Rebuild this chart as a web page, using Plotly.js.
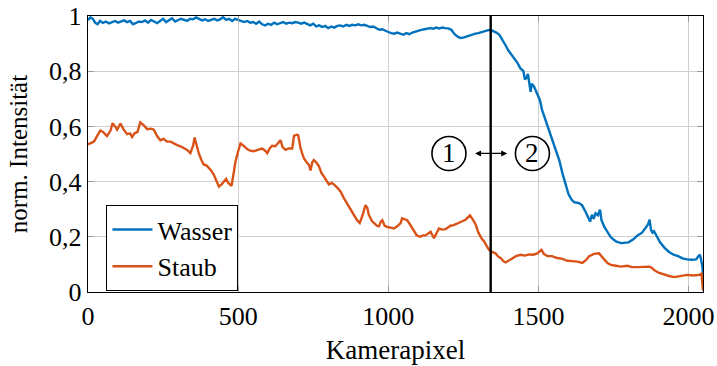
<!DOCTYPE html>
<html><head><meta charset="utf-8">
<script src="https://cdn.plot.ly/plotly-3.0.1.min.js"></script>
<style>html,body{margin:0;padding:0;background:#fff}#plot{width:717px;height:366px}</style>
</head><body><div id="plot"></div>
<script>
const wasserX = [0,8,16,24,32,40,50,60,70,80,90,100,110,120,130,140,150,160,170,180,190,200,210,220,230,240,250,260,270,280,290,300,310,320,330,340,350,360,370,380,390,400,410,420,430,440,450,460,470,480,490,500,510,520,530,540,550,560,570,580,590,600,610,620,630,640,650,660,670,680,690,700,710,720,730,740,750,760,770,780,790,800,810,820,830,840,850,860,870,880,890,900,910,920,930,940,950,960,970,980,990,1000,1010,1020,1030,1040,1050,1060,1070,1080,1090,1100,1110,1120,1130,1140,1150,1160,1170,1180,1190,1200,1210,1220,1230,1240,1250,1260,1270,1280,1290,1300,1310,1320,1330,1340,1350,1360,1370,1380,1390,1400,1410,1420,1430,1440,1450,1455,1460,1465,1470,1474,1478,1485,1495,1505,1512,1520,1530,1540,1550,1560,1570,1580,1590,1600,1610,1620,1635,1645,1655,1665,1672,1678,1684,1690,1698,1705,1710,1720,1730,1740,1750,1760,1775,1790,1800,1815,1830,1845,1855,1865,1870,1875,1880,1885,1895,1905,1920,1935,1950,1965,1980,1995,2010,2025,2033,2038,2042,2046,2048];
const wasserY = [0.985,0.995,0.99,0.975,0.97,0.982,0.975,0.98,0.973,0.978,0.982,0.976,0.98,0.984,0.978,0.982,0.97,0.975,0.98,0.978,0.984,0.976,0.986,0.98,0.974,0.982,0.99,0.978,0.986,0.992,0.98,0.984,0.99,0.986,0.982,0.99,0.988,0.995,0.99,0.984,0.988,0.982,0.986,0.99,0.984,0.988,0.996,0.986,0.99,0.982,0.99,0.986,0.984,0.978,0.982,0.976,0.978,0.972,0.98,0.97,0.966,0.972,0.968,0.976,0.97,0.974,0.978,0.972,0.976,0.974,0.978,0.976,0.972,0.976,0.97,0.966,0.972,0.962,0.966,0.96,0.964,0.956,0.962,0.958,0.964,0.966,0.962,0.968,0.964,0.968,0.966,0.97,0.966,0.968,0.964,0.96,0.962,0.956,0.95,0.952,0.946,0.942,0.938,0.936,0.94,0.935,0.932,0.938,0.934,0.94,0.944,0.946,0.95,0.952,0.954,0.956,0.954,0.958,0.955,0.958,0.956,0.955,0.95,0.935,0.926,0.92,0.922,0.926,0.93,0.932,0.936,0.938,0.942,0.946,0.948,0.95,0.946,0.94,0.932,0.915,0.895,0.875,0.86,0.845,0.83,0.81,0.8,0.77,0.775,0.79,0.76,0.725,0.755,0.745,0.72,0.695,0.66,0.635,0.6,0.575,0.54,0.51,0.475,0.43,0.39,0.355,0.335,0.325,0.322,0.315,0.295,0.27,0.255,0.28,0.265,0.285,0.278,0.298,0.26,0.235,0.215,0.2,0.19,0.182,0.177,0.178,0.18,0.19,0.205,0.215,0.23,0.245,0.262,0.225,0.215,0.22,0.2,0.18,0.16,0.145,0.135,0.13,0.122,0.118,0.117,0.118,0.13,0.135,0.115,0.09,0.06];
const staubX = [0,10,20,30,41,50,63,75,82,90,97,108,118,130,140,147,155,165,174,185,197,210,219,230,241,252,263,275,285,297,308,320,330,341,350,355,362,369,377,385,395,402,410,419,427,436,445,452,460,467,472,478,485,491,500,508,518,530,540,552,565,580,590,597,605,613,624,635,641,648,658,668,680,686,695,700,708,714,719,728,736,741,747,752,760,769,778,786,795,802,812,819,830,841,852,863,875,885,895,905,915,924,930,935,945,952,962,969,975,980,988,996,1008,1019,1030,1041,1046,1055,1063,1075,1085,1095,1107,1115,1124,1132,1141,1152,1160,1169,1180,1191,1200,1207,1218,1230,1240,1250,1257,1265,1272,1280,1291,1300,1310,1319,1327,1335,1345,1357,1366,1374,1383,1391,1400,1413,1425,1441,1455,1469,1483,1496,1505,1510,1518,1530,1545,1563,1580,1596,1613,1630,1646,1658,1669,1685,1702,1710,1719,1730,1741,1758,1774,1796,1812,1830,1850,1869,1877,1885,1900,1919,1935,1952,1970,1996,2015,2035,2043,2046,2048];
const staubY = [0.535,0.54,0.545,0.565,0.585,0.58,0.565,0.585,0.612,0.6,0.588,0.61,0.59,0.572,0.575,0.562,0.575,0.58,0.615,0.605,0.59,0.592,0.588,0.565,0.55,0.555,0.545,0.545,0.538,0.532,0.528,0.522,0.515,0.503,0.53,0.56,0.53,0.502,0.48,0.462,0.458,0.45,0.44,0.425,0.405,0.382,0.39,0.4,0.41,0.395,0.39,0.385,0.43,0.472,0.51,0.538,0.53,0.518,0.512,0.51,0.515,0.52,0.512,0.503,0.52,0.53,0.528,0.54,0.55,0.525,0.515,0.52,0.52,0.566,0.57,0.568,0.52,0.5,0.484,0.47,0.46,0.44,0.47,0.478,0.47,0.455,0.43,0.418,0.4,0.39,0.395,0.39,0.378,0.364,0.34,0.32,0.3,0.28,0.262,0.25,0.28,0.315,0.305,0.28,0.258,0.25,0.24,0.238,0.255,0.26,0.24,0.236,0.232,0.23,0.238,0.25,0.267,0.262,0.26,0.24,0.22,0.205,0.2,0.205,0.205,0.21,0.218,0.195,0.21,0.23,0.226,0.228,0.235,0.24,0.242,0.247,0.252,0.258,0.262,0.27,0.278,0.265,0.245,0.215,0.195,0.183,0.168,0.153,0.145,0.14,0.128,0.123,0.112,0.107,0.113,0.123,0.13,0.135,0.132,0.136,0.135,0.14,0.148,0.153,0.138,0.13,0.13,0.123,0.12,0.113,0.112,0.11,0.105,0.115,0.13,0.138,0.14,0.128,0.118,0.105,0.098,0.095,0.092,0.095,0.09,0.09,0.09,0.092,0.088,0.08,0.07,0.062,0.058,0.054,0.058,0.062,0.06,0.062,0.066,0.04,0.005];
const seriesNames = ["Wasser", "Staub"];
const xTickVals = [0, 500, 1000, 1500, 2000];
const yTickVals = [0, 0.2, 0.4, 0.6, 0.8, 1];
const yTickText = ["0", "0,2", "0,4", "0,6", "0,8", "1"];
const boundaryX = 1341;
const regionLabels = ["1", "2"];
const regionLabelX = [1202, 1480];
const regionLabelY = 0.502;
const arrowFromX = 1284, arrowToX = 1396;

const FONT = "'Liberation Serif', 'DejaVu Serif', serif";
const traces = [
  {x: wasserX, y: wasserY, name: seriesNames[0], type: "scatter", mode: "lines",
   line: {color: "#0072BD", width: 2.4}},
  {x: staubX, y: staubY, name: seriesNames[1], type: "scatter", mode: "lines",
   line: {color: "#D95319", width: 2.4}}
];
const shapes = [
  {type: "line", xref: "x", yref: "paper", x0: boundaryX, x1: boundaryX, y0: 0, y1: 1,
   line: {color: "#000", width: 2.4}}
];
regionLabelX.forEach(cx => shapes.push({
  type: "circle", xref: "x", yref: "y", xsizemode: "pixel", ysizemode: "pixel",
  xanchor: cx, yanchor: regionLabelY, x0: -17, x1: 17, y0: -17, y1: 17,
  line: {color: "#000", width: 1.6}
}));
const annotations = regionLabels.map((t, i) => ({
  x: regionLabelX[i], y: regionLabelY, xref: "x", yref: "y", text: t, showarrow: false,
  font: {family: FONT, size: 27, color: "#000"}, xanchor: "center", yanchor: "middle"
}));
annotations.push({
  x: arrowToX, y: regionLabelY, ax: arrowFromX, ay: regionLabelY, xref: "x", yref: "y",
  axref: "x", ayref: "y", text: "", showarrow: true, arrowside: "end+start",
  arrowhead: 2, startarrowhead: 2, arrowsize: 1, startarrowsize: 1, arrowwidth: 1.2, arrowcolor: "#000"
});
const layout = {
  width: 717, height: 366,
  margin: {l: 88, r: 14, t: 16, b: 74},
  paper_bgcolor: "#fff", plot_bgcolor: "#fff",
  font: {family: FONT, size: 25, color: "#000"},
  showlegend: true,
  legend: {x: 0.03, y: 0.315, xanchor: "left", yanchor: "top", bgcolor: "#fff",
    bordercolor: "#000", borderwidth: 1, font: {family: FONT, size: 26}, tracegroupgap: 0, itemwidth: 40},
  xaxis: {range: [0, 2048], tickvals: xTickVals, ticks: "inside", ticklen: 6, tickcolor: "#999",
    showgrid: true, gridcolor: "#cfcfcf", gridwidth: 1, showline: true, linecolor: "#000", linewidth: 1.3,
    mirror: "ticks", zeroline: false, tickfont: {family: FONT, size: 26},
    title: {text: "Kamerapixel", font: {family: FONT, size: 27}, standoff: 10}},
  yaxis: {range: [0, 1], tickvals: yTickVals, ticktext: yTickText, ticks: "inside", ticklen: 6, tickcolor: "#999",
    showgrid: true, gridcolor: "#cfcfcf", gridwidth: 1, showline: true, linecolor: "#000", linewidth: 1.3,
    mirror: "ticks", zeroline: false, tickfont: {family: FONT, size: 26},
    title: {text: "norm. Intensität", font: {family: FONT, size: 25}, standoff: 14}},
  shapes: shapes, annotations: annotations
};
Plotly.newPlot("plot", traces, layout, {displayModeBar: false, staticPlot: true});
</script></body></html>
